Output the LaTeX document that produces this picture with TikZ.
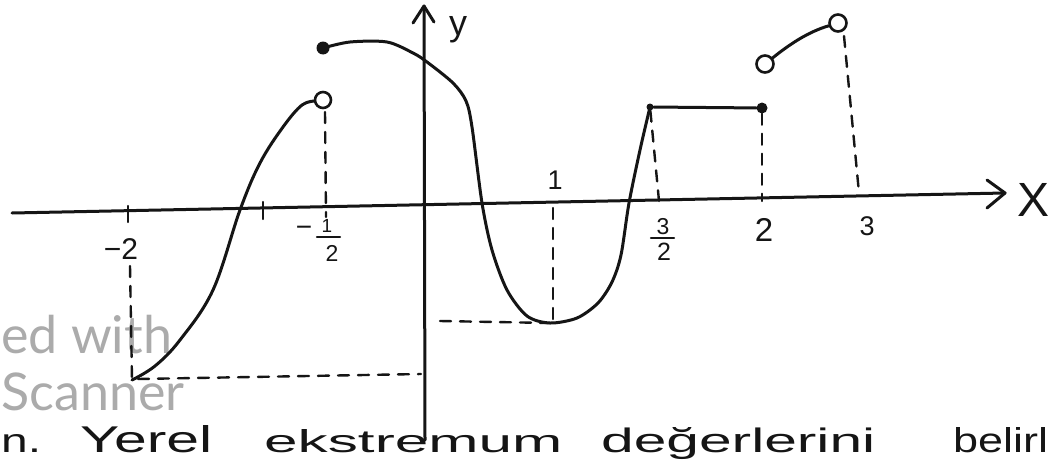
\documentclass[tikz,border=0pt]{standalone}
\usepackage{fontspec}
\setmainfont{Liberation Sans}
\newfontfamily\wmfont{Lato}
\definecolor{inkc}{HTML}{151515}
\definecolor{wmgray}{HTML}{ABABAB}
\begin{document}
\begin{tikzpicture}[x=1pt,y=-1pt, line cap=round, line join=round,
  ink/.style={draw=inkc, line width=3pt},
  axisline/.style={draw=inkc, line width=3pt},
  guide/.style={draw=inkc, line width=2.4pt, dash pattern=on 11pt off 9pt},
  opendot/.style={circle, draw=inkc, line width=2.6pt, fill=white, minimum size=16pt, inner sep=0pt},
  filldot/.style={circle, fill=inkc, minimum size=13pt, inner sep=0pt},
  lbl/.style={text=inkc, inner sep=0pt, font=\fontsize{24}{28}\selectfont},
  wm/.style={text=wmgray, inner sep=0pt, anchor=base west, font=\wmfont\fontsize{52}{60}\selectfont},
  word/.style={text=inkc, inner sep=0pt, anchor=base west}]
\useasboundingbox (0,0) rectangle (1051,471);
\clip (0,0) rectangle (1051,471);
\fill[white] (0,0) rectangle (1051,471);

% watermark
\node[wm] (wm1) at (1,353) {ed with};
\node[wm] (wm2) at (1,410) {Scanner};

% axes
\coordinate (xl) at (12,213);
\coordinate (xr) at (1005,193);
\coordinate (yb) at (425,440);
\coordinate (yt) at (424,6);
\draw[axisline] (xl) -- (xr);
\draw[axisline] (987,180) -- (xr) -- (987,208);
\draw[axisline] (yb) -- (yt);
\draw[axisline] (413,23) -- (yt) -- (434,22);
\node[text=inkc, inner sep=0pt, font=\fontsize{48}{50}\selectfont] (xlab) at (1033,200) {X};
\node[text=inkc, inner sep=0pt, font=\fontsize{36}{38}\selectfont] (ylab) at (458,30) {y};

% ticks
\draw[ink, line width=2.4pt] (128,206) -- (128,222);
\draw[ink, line width=2.4pt] (263,202) -- (263,219);

% points
\node[filldot] (fd1) at (323,48) {};
\node[filldot, minimum size=11pt] (fd2) at (762,108) {};
\node[filldot, minimum size=7pt] (fd3) at (650,107) {};
\coordinate (m2) at (132,380);
\coordinate (mn) at (550,323);

% dashed guides
\draw[guide] (325,112) -- (326,217);
\draw[guide] (130,266) -- (m2);
\draw[guide] (138,379) -- (421,374);
\draw[guide] (440,321) -- (mn);
\draw[guide] (553,208) -- (553,320);
\draw[guide] (fd3) -- (659,201);
\draw[guide] (fd2) -- (762,201);
\draw[guide] (844,36) -- (859,193);

% graph
\draw[ink] plot[smooth, tension=0.6] coordinates {(m2) (155,366) (180,340) (213,290) (240,210) (260,163) (283,127) (302,105) (316,101)};
\draw[ink] plot[smooth, tension=0.5] coordinates {(fd1) (350,42) (387,42) (413,53) (427,62) (453,83) (466,101) (472,127) (482,203) (492,250) (507,290) (527,316) (mn) (577,318) (598,303) (612,282) (621,255) (629,203) (640,150) (fd3)};
\draw[ink] (fd3) -- (fd2);

\node[opendot] (oc1) at (323,100) {};
\node[opendot, minimum size=17pt] (oc2) at (765,64) {};
\node[opendot, minimum size=17pt] (oc3) at (838,23) {};
\draw[ink] (oc2) .. controls (790,44) and (808,32) .. (oc3);

% labels
\node[lbl, font=\fontsize{30}{32}\selectfont] (lm2) at (121,249) {−2};
\node[lbl, font=\fontsize{28}{30}\selectfont] (mh) at (304,231) {−};
\node[lbl, font=\fontsize{19}{20}\selectfont] (nh) at (327,226) {1};
\draw[ink, line width=2.2pt] (317,237) -- (340,237);
\node[lbl, font=\fontsize{23}{24}\selectfont] (dh) at (332,253) {2};
\node[lbl, font=\fontsize{27}{28}\selectfont] (l1) at (555,180) {1};
\node[lbl, font=\fontsize{23}{24}\selectfont] (n32) at (663,227) {3};
\draw[ink, line width=2.2pt] (651,238) -- (674,238);
\node[lbl, font=\fontsize{25}{26}\selectfont] (d32) at (664,252) {2};
\node[lbl, font=\fontsize{33}{34}\selectfont] (l2) at (764,230) {2};
\node[lbl, font=\fontsize{27}{28}\selectfont] (l3) at (867,226) {3};

% bottom handwritten line
\node[word] (w0) at (1,452) {\resizebox{40pt}{18pt}{n.}};
\node[word] (w1) at (80,452) {\resizebox{132pt}{27pt}{Yerel}};
\node[word] (w2) at (264,452) {\resizebox{298pt}{23pt}{ekstremum}};
\node[word] (w3) at (601,452) {\resizebox{274pt}{25pt}{değerlerini}};
\node[word] (w4) at (953,452) {\resizebox{95pt}{25pt}{belirl}};
\end{tikzpicture}
\end{document}
